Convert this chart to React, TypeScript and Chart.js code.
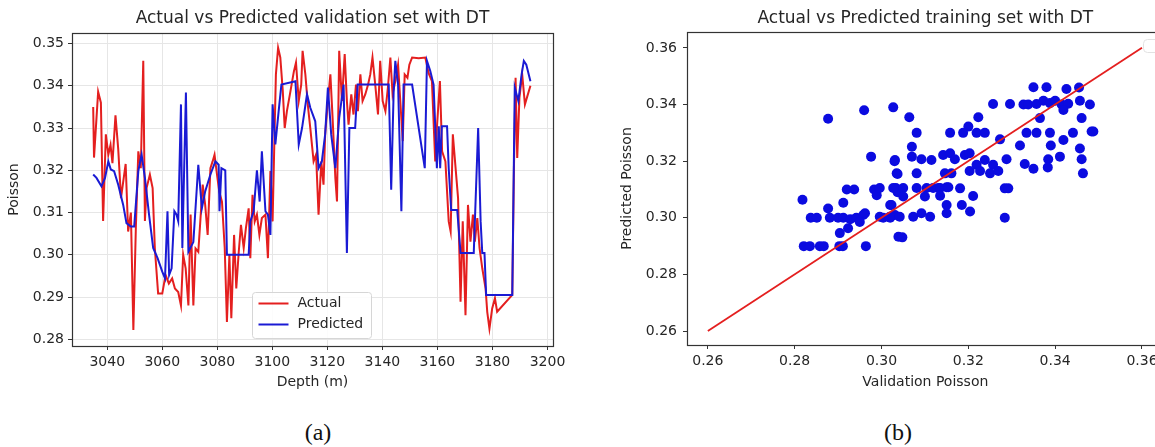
import React, { useEffect, useRef } from 'react';
import { Chart, registerables } from 'chart.js';

Chart.register(...registerables);

// ---------- Data: (a) validation set, Poisson vs depth ----------
const actualDepth = [
  3034.9, 3035.2, 3036.7, 3037.7, 3038.5, 3039.5, 3040.4, 3041.2, 3041.9, 3043.0,
  3044.0, 3045.0, 3046.7, 3047.6, 3048.6, 3049.5, 3050.4, 3051.3, 3052.2, 3053.1,
  3053.7, 3054.3, 3055.5, 3056.5, 3057.3, 3058.5, 3060.0, 3061.2, 3062.4, 3063.6,
  3064.6, 3065.8, 3066.8, 3067.6, 3068.5, 3069.5, 3070.3, 3071.3, 3072.1, 3073.1,
  3074.7, 3075.6, 3076.5, 3077.5, 3078.3, 3079.0, 3079.9, 3080.7, 3081.7, 3082.7,
  3083.5, 3084.4, 3085.1, 3086.1, 3086.9, 3087.8, 3088.6, 3089.6, 3090.4, 3091.4,
  3092.0, 3092.8, 3093.6, 3094.4, 3095.3, 3096.2, 3097.5, 3098.4, 3099.3, 3100.1,
  3100.8, 3101.3, 3102.1, 3102.9, 3103.8, 3104.5, 3105.3, 3106.5, 3107.8, 3108.6,
  3109.6, 3110.5, 3111.0, 3112.0, 3113.0, 3113.8, 3115.0, 3115.9, 3116.8, 3117.8,
  3118.6, 3119.2, 3120.2, 3121.1, 3121.9, 3122.9, 3123.5, 3124.3, 3125.3, 3126.3,
  3127.1, 3127.7, 3128.7, 3129.5, 3130.4, 3131.1, 3132.0, 3132.8, 3133.8, 3134.8,
  3135.6, 3136.4, 3137.4, 3138.4, 3139.2, 3140.1, 3141.1, 3142.0, 3142.9, 3143.7,
  3144.7, 3145.7, 3146.5, 3147.4, 3148.1, 3149.1, 3149.8, 3150.8, 3153.2, 3155.6,
  3156.8, 3158.0, 3159.2, 3159.8, 3160.9, 3161.7, 3162.9, 3164.1, 3164.8, 3165.6,
  3166.6, 3167.5, 3168.4, 3169.2, 3170.2, 3171.1, 3172.0, 3172.9, 3173.6, 3174.5,
  3175.3, 3176.3, 3177.5, 3178.1, 3178.9, 3179.9, 3180.9, 3181.7, 3187.2, 3187.8,
  3188.4, 3189.0, 3189.8, 3190.8, 3191.8, 3193.8,
];
const actualPoisson = [
  0.335, 0.323, 0.3386, 0.336, 0.308, 0.3285, 0.3237, 0.326, 0.3217, 0.333,
  0.325, 0.3134, 0.3215, 0.3055, 0.310, 0.2822, 0.3063, 0.3245, 0.3205, 0.3459,
  0.308, 0.3158, 0.319, 0.3158, 0.3016, 0.2908, 0.2908, 0.2952, 0.2932, 0.2944,
  0.292, 0.2912, 0.288, 0.300, 0.2968, 0.288, 0.3095, 0.288, 0.3015, 0.3007,
  0.3166, 0.3118, 0.3047, 0.3205, 0.3221, 0.3237, 0.319, 0.315, 0.3126, 0.3016,
  0.2841, 0.300, 0.285, 0.3047, 0.292, 0.3007, 0.3071, 0.3016, 0.3063, 0.311,
  0.2992, 0.3142, 0.3079, 0.3095, 0.3047, 0.3087, 0.3095, 0.2992, 0.3198, 0.3079,
  0.3285, 0.3427, 0.349, 0.3467, 0.3388, 0.330, 0.334, 0.3384, 0.3433, 0.3455,
  0.3364, 0.3403, 0.3483, 0.3427, 0.3348, 0.330, 0.3221, 0.3237, 0.3095, 0.3221,
  0.3166, 0.3285, 0.3364, 0.3427, 0.3324, 0.3182, 0.3126, 0.3483, 0.3364, 0.3475,
  0.3364, 0.3308, 0.338, 0.3332, 0.3403, 0.334, 0.3427, 0.3364, 0.338, 0.3403,
  0.3427, 0.3467, 0.3403, 0.3332, 0.3459, 0.3364, 0.334, 0.3396, 0.3467, 0.338,
  0.3411, 0.345, 0.3364, 0.3269, 0.3427, 0.3419, 0.345, 0.3467, 0.3465, 0.3467,
  0.343, 0.3411, 0.3221, 0.330, 0.3411, 0.3245, 0.3221, 0.3079, 0.3055, 0.3285,
  0.3205, 0.3134, 0.2889, 0.3079, 0.2857, 0.3118, 0.3031, 0.3095, 0.3031, 0.3087,
  0.3016, 0.2968, 0.292, 0.2865, 0.2825, 0.2873, 0.2897, 0.2865, 0.2905, 0.3205,
  0.3419, 0.3229, 0.3372, 0.3427, 0.3356, 0.340,
];
const predictedDepth = [
  3034.9, 3036.1, 3037.9, 3039.2, 3040.4, 3041.3, 3042.5, 3044.0, 3045.8, 3047.0,
  3048.6, 3049.8, 3051.3, 3052.5, 3053.7, 3055.2, 3056.7, 3058.3, 3060.0, 3061.0,
  3061.9, 3062.5, 3063.4, 3064.4, 3065.2, 3065.8, 3066.8, 3067.3, 3068.6, 3069.5,
  3071.3, 3073.1, 3074.4, 3075.6, 3077.5, 3079.3, 3080.5, 3080.8, 3081.5, 3082.9,
  3083.5, 3091.4, 3092.0, 3093.2, 3094.4, 3095.4, 3096.2, 3097.5, 3098.4, 3099.3,
  3100.1, 3101.1, 3102.3, 3103.3, 3108.4, 3109.6, 3110.8, 3112.6, 3113.8, 3115.6,
  3116.8, 3118.0, 3119.2, 3120.2, 3121.4, 3122.9, 3124.3, 3125.9, 3127.1, 3128.0,
  3130.1, 3131.0, 3142.3, 3143.2, 3144.1, 3144.7, 3145.7, 3146.9, 3147.7, 3150.8,
  3155.4, 3156.2, 3157.4, 3158.6, 3159.8, 3160.5, 3161.0, 3161.6, 3163.5, 3164.1,
  3165.0, 3167.2, 3168.4, 3173.2, 3174.8, 3175.7, 3176.3, 3177.1, 3177.7, 3187.2,
  3188.1, 3189.4, 3190.6, 3191.4, 3192.3, 3193.8,
];
const predictedPoisson = [
  0.319, 0.3182, 0.3162, 0.3182, 0.3221, 0.3202, 0.3198, 0.3166, 0.3118, 0.3075,
  0.3067, 0.3067, 0.3198, 0.3237, 0.3182, 0.3095, 0.3016, 0.2992, 0.296, 0.2944,
  0.3103, 0.2952, 0.2968, 0.3103, 0.3095, 0.308, 0.3356, 0.3016, 0.3384, 0.3007,
  0.303, 0.3213, 0.311, 0.315, 0.319, 0.3221, 0.3213, 0.3103, 0.3205, 0.320,
  0.300, 0.300, 0.3079, 0.3103, 0.320, 0.3126, 0.3245, 0.3103, 0.3095, 0.3047,
  0.3356, 0.3261, 0.334, 0.3403, 0.3411, 0.3261, 0.330, 0.338, 0.3348, 0.3316,
  0.3205, 0.3221, 0.3285, 0.3396, 0.3285, 0.3205, 0.3324, 0.3403, 0.3004, 0.330,
  0.330, 0.3403, 0.3403, 0.3154, 0.3388, 0.3459, 0.3403, 0.3103, 0.3403, 0.3403,
  0.3205, 0.3459, 0.3435, 0.3403, 0.3205, 0.3304, 0.3205, 0.3304, 0.3304, 0.3205,
  0.3106, 0.3106, 0.3004, 0.3004, 0.330, 0.3079, 0.3004, 0.3004, 0.2905, 0.2905,
  0.3396, 0.3364, 0.3427, 0.3459, 0.345, 0.3411,
];
const depthTicks = [3040, 3060, 3080, 3100, 3120, 3140, 3160, 3180, 3200];
const poissonTicks = [0.28, 0.29, 0.3, 0.31, 0.32, 0.33, 0.34, 0.35];

// ---------- Data: (b) training set scatter ----------
const validationPoisson = [
  0.2877, 0.296, 0.3027, 0.2976, 0.303, 0.3037, 0.292, 0.2937, 0.2983, 0.2989,
  0.3033, 0.2818, 0.2837, 0.2851, 0.2877, 0.2881, 0.290, 0.2912, 0.2912, 0.2928,
  0.2923, 0.2904, 0.2942, 0.2958, 0.2962, 0.295, 0.2821, 0.2835, 0.2858, 0.2867,
  0.2903, 0.2911, 0.2964, 0.3004, 0.302, 0.3031, 0.302, 0.3037, 0.3039, 0.335,
  0.338, 0.3426, 0.3455, 0.3257, 0.3296, 0.3327, 0.3338, 0.3357, 0.3373, 0.3388,
  0.340, 0.3415, 0.343, 0.3457, 0.348, 0.3365, 0.3419, 0.3461, 0.3064, 0.3223,
  0.320, 0.3081, 0.3158, 0.3188, 0.3219, 0.3238, 0.3334, 0.3357, 0.3388, 0.3441,
  0.3484, 0.3488, 0.3273, 0.307, 0.3319, 0.339, 0.3419, 0.3457, 0.3031, 0.307,
  0.3092, 0.3115, 0.3142, 0.3158, 0.3169, 0.3192, 0.3203, 0.3219, 0.3238, 0.3257,
  0.3288, 0.333, 0.335, 0.3384, 0.3411, 0.3461, 0.3035, 0.3081, 0.3146, 0.3161,
  0.3203, 0.3227, 0.325, 0.3269, 0.3383, 0.3464, 0.3027, 0.305, 0.3081, 0.3104,
  0.3131, 0.315, 0.3181, 0.3211, 0.3284, 0.3292, 0.2996, 0.3119, 0.3135, 0.3154,
  0.305, 0.310, 0.3135, 0.3023, 0.315, 0.3185, 0.2996, 0.3019, 0.3042, 0.3073,
  0.3092, 0.3112, 0.315, 0.3204, 0.3284, 0.3048,
];
const predictedTrainPoisson = [
  0.335, 0.338, 0.339, 0.3216, 0.320, 0.3155, 0.310, 0.310, 0.310, 0.308,
  0.3105, 0.3064, 0.300, 0.300, 0.3033, 0.300, 0.300, 0.3053, 0.300, 0.2995,
  0.2963, 0.2946, 0.300, 0.301, 0.3016, 0.2985, 0.290, 0.290, 0.290, 0.290,
  0.290, 0.290, 0.290, 0.300, 0.300, 0.301, 0.3045, 0.309, 0.2933, 0.3461,
  0.3461, 0.3455, 0.346, 0.3402, 0.3402, 0.340, 0.340, 0.3402, 0.3413, 0.3405,
  0.3413, 0.340, 0.3403, 0.3413, 0.340, 0.3352, 0.3381, 0.3352, 0.3355, 0.3355,
  0.3322, 0.330, 0.330, 0.330, 0.330, 0.330, 0.330, 0.330, 0.330, 0.330,
  0.3305, 0.3305, 0.3277, 0.3251, 0.3255, 0.3255, 0.3275, 0.3245, 0.3204, 0.3216,
  0.3207, 0.3204, 0.3222, 0.3228, 0.3207, 0.3222, 0.3228, 0.3187, 0.3204, 0.3187,
  0.3207, 0.319, 0.3173, 0.3207, 0.3216, 0.3207, 0.3157, 0.3157, 0.3157, 0.3157,
  0.3165, 0.3165, 0.3157, 0.3165, 0.3178, 0.3157, 0.3105, 0.3105, 0.3105, 0.3105,
  0.3105, 0.3108, 0.3104, 0.3077, 0.3104, 0.3104, 0.3105, 0.3105, 0.3105, 0.3108,
  0.3075, 0.3075, 0.3078, 0.3045, 0.3045, 0.3045, 0.3004, 0.3004, 0.3004, 0.3004,
  0.3016, 0.3004, 0.3016, 0.3022, 0.300, 0.2931,
];
const identityLine = [0.26, 0.36];
const scatterTicks = [0.26, 0.28, 0.3, 0.32, 0.34, 0.36];

// ---------- Styling ----------
const FONT = "'DejaVu Sans', 'Liberation Sans', sans-serif";
const TEXT = '#262626';
const AXIS = '#333333';
const RED = '#e41f1f';
const BLUE = '#1a1ad4';

const zip = (xs: number[], ys: number[]) =>
  xs.slice(0, Math.min(xs.length, ys.length)).map((x, i) => ({ x, y: ys[i] }));

const framePlugin = {
  id: 'frame',
  afterDatasetsDraw(chart: any) {
    const { ctx, chartArea } = chart;
    const l = Math.round(chartArea.left) + 0.5;
    const t = Math.round(chartArea.top) + 0.5;
    const r = Math.round(chartArea.right) + 0.5;
    const b = Math.round(chartArea.bottom) + 0.5;
    ctx.save();
    ctx.strokeStyle = AXIS;
    ctx.lineWidth = 1.2;
    ctx.strokeRect(l, t, r - l, b - t);
    ctx.restore();
  },
};

function roundRect(ctx: CanvasRenderingContext2D, x: number, y: number, w: number, h: number, r: number) {
  ctx.beginPath();
  if ((ctx as any).roundRect) {
    (ctx as any).roundRect(x, y, w, h, r);
  } else {
    ctx.rect(x, y, w, h);
  }
}

const insetLegendPlugin = {
  id: 'insetLegend',
  afterDraw(chart: any) {
    const { ctx, chartArea } = chart;
    const x = Math.round(chartArea.left) + 180.5;
    const y = Math.round(chartArea.bottom) - 53.5;
    ctx.save();
    roundRect(ctx, x, y, 119, 46, 3);
    ctx.fillStyle = 'rgba(255,255,255,0.85)';
    ctx.fill();
    ctx.strokeStyle = '#d6d6d6';
    ctx.lineWidth = 1;
    ctx.stroke();
    chart.data.datasets.forEach((ds: any, i: number) => {
      const ly = y + 11 + i * 21;
      ctx.strokeStyle = ds.borderColor;
      ctx.lineWidth = 2;
      ctx.beginPath();
      ctx.moveTo(x + 6, ly);
      ctx.lineTo(x + 36, ly);
      ctx.stroke();
      ctx.fillStyle = TEXT;
      ctx.font = `14px ${FONT}`;
      ctx.textBaseline = 'middle';
      ctx.textAlign = 'left';
      ctx.fillText(ds.label, x + 45, ly);
    });
    ctx.restore();
  },
};

const emptyLegendPlugin = {
  id: 'emptyLegend',
  afterDraw(chart: any) {
    const { ctx, chartArea } = chart;
    ctx.save();
    roundRect(ctx, Math.round(chartArea.right) - 20.5, Math.round(chartArea.top) + 7.5, 17, 13, 4);
    ctx.fillStyle = 'rgba(255,255,255,0.85)';
    ctx.fill();
    ctx.strokeStyle = '#e2e2e2';
    ctx.stroke();
    ctx.restore();
  },
};

const tickFont = { size: 14, family: FONT };
const titleFont = { size: 17, family: FONT, weight: 'normal' as const };

export default function App() {
  const leftRef = useRef<HTMLCanvasElement>(null);
  const rightRef = useRef<HTMLCanvasElement>(null);

  useEffect(() => {
    const left = new Chart(leftRef.current as HTMLCanvasElement, {
      type: 'line',
      data: {
        datasets: [
          {
            label: 'Actual',
            data: zip(actualDepth, actualPoisson),
            borderColor: RED,
            borderWidth: 2,
            pointRadius: 0,
            tension: 0,
            fill: false,
            order: 1,
          },
          {
            label: 'Predicted',
            data: zip(predictedDepth, predictedPoisson),
            borderColor: BLUE,
            borderWidth: 2,
            pointRadius: 0,
            tension: 0,
            fill: false,
            order: 0,
          },
        ],
      },
      options: {
        animation: false,
        responsive: false,
        devicePixelRatio: 1,
        layout: { padding: { left: 0, right: 27, top: 0, bottom: 0 } },
        plugins: {
          legend: { display: false },
          tooltip: { enabled: false },
          title: {
            display: true,
            text: 'Actual vs Predicted validation set with DT',
            font: titleFont,
            color: TEXT,
            fullSize: false,
            padding: { top: 8, bottom: 4.6 },
          },
        },
        scales: {
          x: {
            type: 'linear',
            min: 3027.2,
            max: 3202,
            afterBuildTicks: (s: any) => {
              s.ticks = depthTicks.map((v) => ({ value: v }));
            },
            afterFit: (s: any) => {
              s.height = 54;
            },
            ticks: {
              font: tickFont,
              color: TEXT,
              padding: 4,
              maxRotation: 0,
              autoSkip: false,
              callback: (v: any) => String(v),
            },
            grid: { color: '#e6e6e6', lineWidth: 1, tickLength: 4, tickColor: AXIS, drawTicks: true },
            border: { display: false },
            title: {
              display: true,
              text: 'Depth (m)',
              font: tickFont,
              color: TEXT,
              padding: { top: 0, bottom: 9.6 },
            },
          },
          y: {
            type: 'linear',
            min: 0.2784,
            max: 0.3525,
            afterBuildTicks: (s: any) => {
              s.ticks = poissonTicks.map((v) => ({ value: v }));
            },
            afterFit: (s: any) => {
              s.width = 72;
            },
            ticks: {
              font: tickFont,
              color: TEXT,
              padding: 4,
              autoSkip: false,
              callback: (v: any) => Number(v).toFixed(2),
            },
            grid: { color: '#e6e6e6', lineWidth: 1, tickLength: 4, tickColor: AXIS, drawTicks: true },
            border: { display: false },
            title: {
              display: true,
              text: 'Poisson',
              font: tickFont,
              color: TEXT,
              padding: { top: 5.6, bottom: 0 },
            },
          },
        },
      },
      plugins: [framePlugin, insetLegendPlugin],
    } as any);

    const right = new Chart(rightRef.current as HTMLCanvasElement, {
      type: 'scatter',
      data: {
        datasets: [
          {
            label: 'Identity',
            data: zip(identityLine, identityLine),
            showLine: true,
            borderColor: RED,
            borderWidth: 1.8,
            pointRadius: 0,
            order: 0,
          },
          {
            label: 'Training',
            data: zip(validationPoisson, predictedTrainPoisson),
            backgroundColor: '#0b0be0',
            borderWidth: 0,
            pointRadius: 5,
            order: 1,
          },
        ],
      },
      options: {
        animation: false,
        responsive: false,
        devicePixelRatio: 1,
        layout: { padding: { left: 0, right: 16.3, top: 0, bottom: 0 } },
        plugins: {
          legend: { display: false },
          tooltip: { enabled: false },
          title: {
            display: true,
            text: 'Actual vs Predicted training set with DT',
            font: titleFont,
            color: TEXT,
            fullSize: false,
            padding: { top: 8, bottom: 3.6 },
          },
        },
        scales: {
          x: {
            type: 'linear',
            min: 0.2552,
            max: 0.365,
            afterBuildTicks: (s: any) => {
              s.ticks = scatterTicks.map((v) => ({ value: v }));
            },
            afterFit: (s: any) => {
              s.height = 55;
            },
            ticks: {
              font: tickFont,
              color: TEXT,
              padding: 4,
              maxRotation: 0,
              autoSkip: false,
              callback: (v: any) => Number(v).toFixed(2),
            },
            grid: { drawOnChartArea: false, tickLength: 4, tickColor: AXIS, drawTicks: true },
            border: { display: false },
            title: {
              display: true,
              text: 'Validation Poisson',
              font: tickFont,
              color: TEXT,
              padding: { top: 0, bottom: 9.6 },
            },
          },
          y: {
            type: 'linear',
            min: 0.2551,
            max: 0.3656,
            afterBuildTicks: (s: any) => {
              s.ticks = scatterTicks.map((v) => ({ value: v }));
            },
            afterFit: (s: any) => {
              s.width = 107;
            },
            ticks: {
              font: tickFont,
              color: TEXT,
              padding: 6,
              autoSkip: false,
              callback: (v: any) => Number(v).toFixed(2),
            },
            grid: { drawOnChartArea: false, tickLength: 4, tickColor: AXIS, drawTicks: true },
            border: { display: false },
            title: {
              display: true,
              text: 'Predicted Poisson',
              font: tickFont,
              color: TEXT,
              padding: { top: 39, bottom: 0 },
            },
          },
        },
      },
      plugins: [framePlugin, emptyLegendPlugin],
    } as any);

    return () => {
      left.destroy();
      right.destroy();
    };
  }, []);

  const capStyle: React.CSSProperties = {
    position: 'absolute',
    top: 418,
    width: 100,
    textAlign: 'center',
    fontFamily: "'Liberation Serif', 'Times New Roman', serif",
    fontSize: 24,
    lineHeight: '28px',
    color: '#111',
  };

  return (
    <div
      style={{
        position: 'fixed',
        left: 0,
        top: 0,
        width: 1155,
        height: 447,
        overflow: 'hidden',
        background: '#ffffff',
      }}
    >
      <canvas ref={leftRef} width={580} height={400} style={{ position: 'absolute', left: 0, top: 0 }} />
      <canvas ref={rightRef} width={600} height={400} style={{ position: 'absolute', left: 580, top: 0 }} />
      <div style={{ ...capStyle, left: 268 }}>(a)</div>
      <div style={{ ...capStyle, left: 848 }}>(b)</div>
    </div>
  );
}
